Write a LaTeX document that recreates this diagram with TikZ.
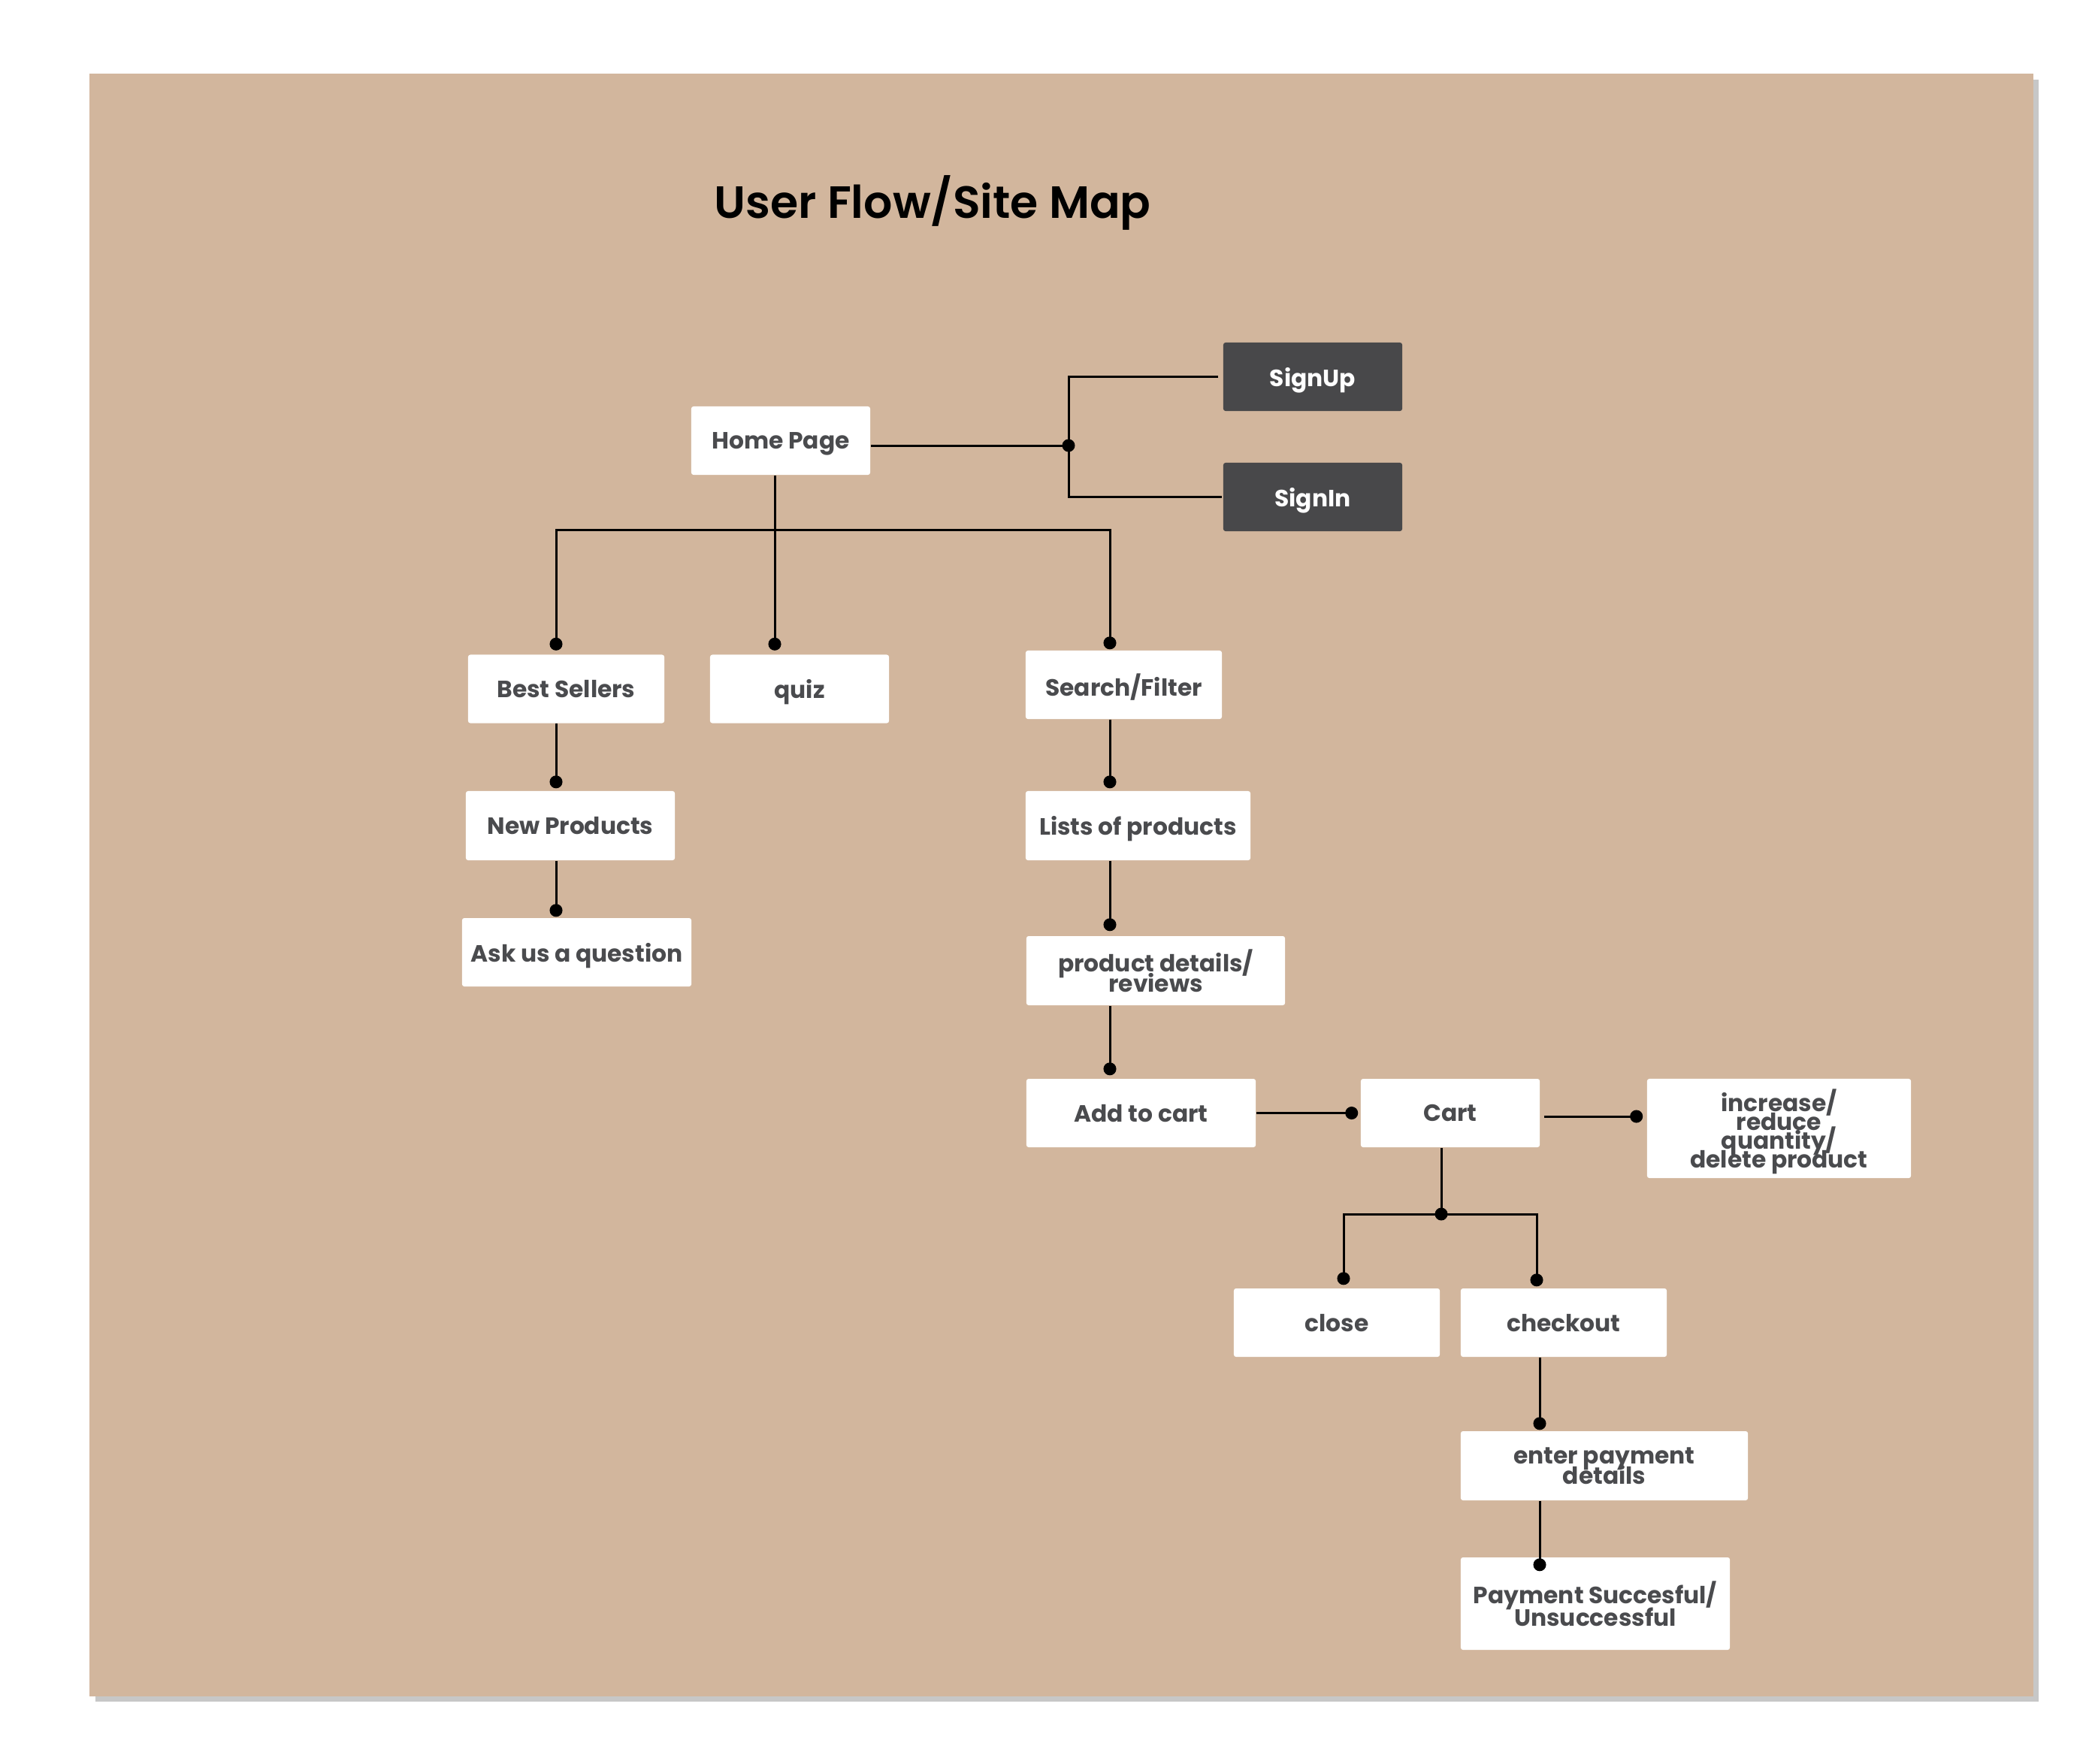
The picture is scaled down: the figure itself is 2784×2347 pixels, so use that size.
\documentclass[tikz,border=0pt]{standalone}
\usepackage{fontspec}
\setmainfont{Poppins}
\newfontfamily\boxfont{Poppins Bold}
\newfontfamily\titlefont{Poppins SemiBold}
\usetikzlibrary{arrows.meta}
\definecolor{Sand}{RGB}{210,182,157}
\definecolor{Charcoal}{RGB}{72,72,74}
\definecolor{InkGray}{RGB}{74,75,78}
\colorlet{PageShadow}{black!22}
\newcommand{\boxtype}[1]{\boxfont\fontsize{8.9}{#1}\selectfont\lineskiplimit=-50pt}
\tikzstyle{pageBox}=[fill=white, rounded corners=0.3mm, inner sep=0pt, minimum height=9.1mm, align=center, text=InkGray, text depth=0pt, font=\boxtype{7.7}]
\tikzstyle{authBlock}=[pageBox, fill=Charcoal, text=white]
\tikzstyle{joint}=[circle, fill=black, inner sep=0pt, minimum size=1.7mm]
\tikzstyle{flowLine}=[line width=0.85pt]
\tikzstyle{flowDot}=[flowLine, -{Circle[length=1.7mm]}]

\begin{document}
\begin{tikzpicture}[x=0.01cm, y=-0.01cm]
    \useasboundingbox (0,0) rectangle (2784,2347);
    % Page
    \fill[PageShadow] (127,106) rectangle (2713,2265);
    \fill[Sand] (119,98) rectangle (2706,2258);
    \node[anchor=base west, inner sep=0pt, font=\titlefont\fontsize{17.1}{21}\selectfont] (title) at (950,290) {User Flow/Site Map};

    % Columns
    \coordinate (colL) at (740,0);
    \coordinate (colS) at (1477,0);
    \coordinate (colX) at (1788,0);
    \coordinate (colK) at (2045,0);
    \coordinate (colP) at (2049,0);

    % Home page and account
    \node[pageBox, minimum width=23.8mm] (home) at (1039,586.5) {Home Page};
    \node[authBlock, minimum width=23.8mm] (signup) at (1747,501.5) {SignUp};
    \node[authBlock, minimum width=23.8mm] (signin) at (1747,661.5) {SignIn};
    \node[joint] (accJoint) at (1422,593) {};
    \draw[flowLine] (home.east |- accJoint) -- (accJoint.center);
    \draw[flowLine] ([xshift=-0.6mm]signup.west) -| (accJoint.center) |- ([xshift=-0.1mm]signin.west);

    % Browsing
    \node[pageBox, minimum width=26.1mm] (bestsellers) at (753.5,917) {Best Sellers};
    \node[pageBox, minimum width=23.8mm] (quiz) at (1064,917) {quiz};
    \node[pageBox, minimum width=26.1mm] (search) at (1495.5,911.5) {Search/Filter};
    \node[pageBox, minimum width=27.8mm, minimum height=9.2mm] (newprod) at (759,1099) {New Products};
    \node[pageBox, minimum width=30.5mm] (ask) at (767.5,1267.5) {Ask us a question};
    \node[pageBox, minimum width=29.9mm, minimum height=9.2mm] (lists) at (1514.5,1099) {Lists of products};
    \node[pageBox, minimum width=34.4mm, minimum height=9.2mm] (details) at (1538,1292) {product details/\\reviews};

    \coordinate (hub) at (1031,705);
    \draw[flowLine] (home.south -| hub) -- (hub);
    \draw[flowDot] (hub) -| ([yshift=0.5mm]bestsellers.north -| colL);
    \draw[flowDot] (hub) -- ([yshift=0.5mm]quiz.north -| hub);
    \draw[flowDot] (hub) -| ([yshift=0.1mm]search.north -| colS);
    \draw[flowDot] (bestsellers.south -| colL) -- ([yshift=0.3mm]newprod.north -| colL);
    \draw[flowDot] (newprod.south -| colL) -- ([yshift=0.1mm]ask.north -| colL);
    \draw[flowDot] (search.south -| colS) -- ([yshift=0.3mm]lists.north -| colS);
    \draw[flowDot] (lists.south -| colS) -- ([yshift=0.6mm]details.north -| colS);

    % Cart
    \node[pageBox, minimum width=30.5mm] (addcart) at (1518.5,1481.5) {Add to cart};
    \node[pageBox, minimum width=23.8mm] (cart) at (1930,1481.5) {Cart};
    \node[pageBox, minimum width=35.1mm, minimum height=13.2mm, font=\boxtype{7.1}] (qtybox) at (2367.5,1502) {increase/\\reduce\\quantity/\\delete product};
    \draw[flowDot] (details.south -| colS) -- ([yshift=0.4mm]addcart.north -| colS);
    \draw[flowDot] (addcart.east) -- ([xshift=-0.3mm]cart.west);
    \draw[flowDot] ([xshift=0.5mm,yshift=-0.45mm]cart.east) -- ([xshift=-0.5mm,yshift=-0.45mm]qtybox.west |- cart.east);

    % Checkout
    \node[pageBox, minimum width=27.4mm] (close) at (1779,1760.5) {close};
    \node[pageBox, minimum width=27.4mm] (checkout) at (2081,1760.5) {checkout};
    \node[pageBox, minimum width=38.2mm, minimum height=9.2mm] (payinfo) at (2135,1951) {enter payment\\details};
    \node[pageBox, minimum width=35.8mm, minimum height=12.3mm, font=\boxtype{8.5}] (payresult) at (2123,2134.5) {Payment Succesful/\\Unsuccessful};
    \node[joint] (cartJoint) at (1918,1616) {};
    \draw[flowLine] (cart.south -| cartJoint) -- (cartJoint.center);
    \draw[flowDot] (cartJoint.center) -| ([yshift=0.4mm]close.north -| colX);
    \draw[flowDot] (cartJoint.center) -| ([yshift=0.2mm]checkout.north -| colK);
    \draw[flowDot] (checkout.south -| colP) -- ([yshift=0.1mm]payinfo.north -| colP);
    \draw[flowDot] (payinfo.south -| colP) -- ([yshift=-1.9mm]payresult.north -| colP);

\end{tikzpicture}
\end{document}
